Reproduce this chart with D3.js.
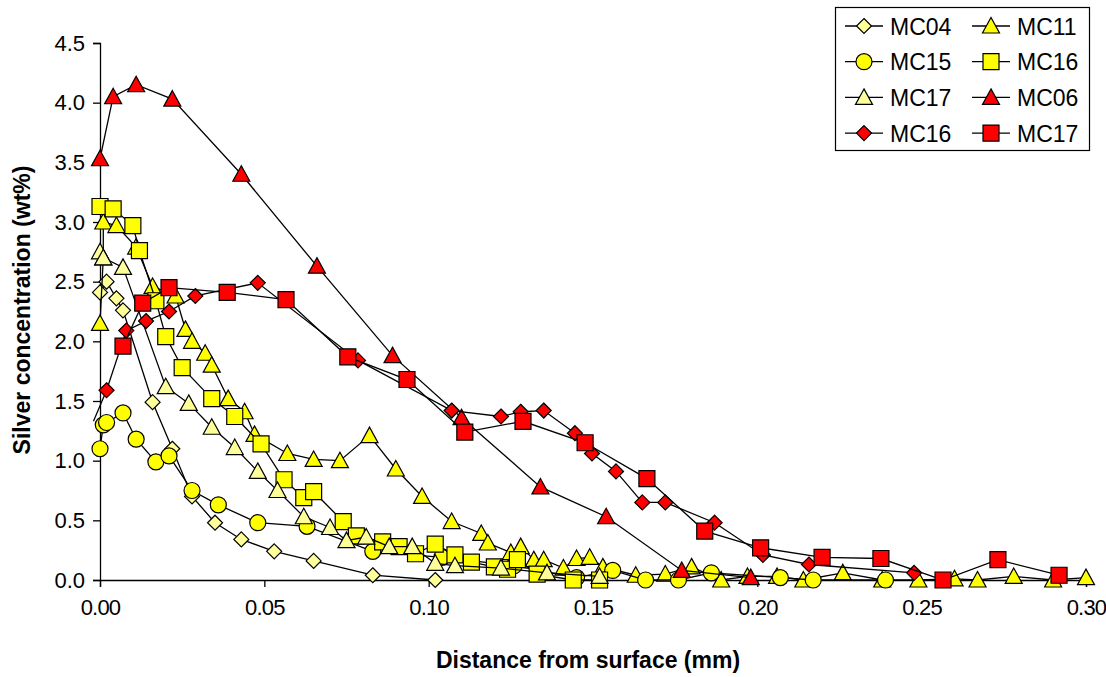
<!DOCTYPE html>
<html lang="en">
<head>
<meta charset="utf-8">
<title>Silver concentration profiles</title>
<script src="https://d3js.org/d3.v7.min.js"></script>
<style>
  body { margin: 0; background: #fff; }
  text { font-family: "Liberation Sans", Arial, sans-serif; fill: #000; }
</style>
</head>
<body>
<svg id="chart" width="1106" height="677"></svg>
<script>
// distance (mm), silver (wt%)
var mc04 = [[0,2.41],[0.002,2.50],[0.005,2.36],[0.007,2.26],[0.016,1.49],[0.022,1.10],[0.028,0.70],
  [0.035,0.48],[0.043,0.34],[0.053,0.24],[0.065,0.16],[0.083,0.04],[0.102,0.0]];
var mc11 = [[0,2.15],[0.001,2.70],[0.001,3.00],[0.005,2.97],[0.011,2.79],[0.016,2.46],[0.023,2.38],
  [0.026,2.10],[0.028,2.00],[0.032,1.90],[0.034,1.80],[0.039,1.52],[0.044,1.41],[0.047,1.22],
  [0.057,1.06],[0.065,1.01],[0.073,1.00],[0.082,1.21],[0.090,0.93],[0.098,0.70],[0.107,0.49],
  [0.116,0.39],[0.118,0.31],[0.125,0.23],[0.128,0.28],[0.132,0.17],[0.135,0.17],[0.141,0.10],
  [0.145,0.18],[0.149,0.19],[0.153,0.11],[0.163,0.04],[0.172,0.05],[0.180,0.11],[0.189,0.0],
  [0.197,0.03],[0.206,0.03],[0.214,0.0],[0.226,0.06],[0.238,0.0],[0.249,0.0],[0.260,0.01],
  [0.267,0.0],[0.278,0.03],[0.290,0.0],[0.300,0.02]];
var mc15 = [[0,1.10],[0.001,1.30],[0.002,1.32],[0.007,1.40],[0.011,1.18],[0.017,0.99],[0.021,1.04],
  [0.028,0.75],[0.036,0.63],[0.048,0.48],[0.063,0.45],[0.083,0.24],[0.104,0.19],[0.126,0.12],
  [0.145,0.02],[0.156,0.08],[0.166,0.0],[0.176,0.0],[0.186,0.06],[0.207,0.02],[0.217,0.0],[0.239,0.0]];
var mc16y = [[0,3.13],[0.004,3.11],[0.010,2.97],[0.012,2.76],[0.017,2.34],[0.020,2.04],[0.025,1.78],
  [0.034,1.52],[0.041,1.37],[0.049,1.14],[0.056,0.84],[0.062,0.69],[0.065,0.74],[0.074,0.49],
  [0.078,0.37],[0.086,0.32],[0.091,0.28],[0.096,0.22],[0.102,0.30],[0.108,0.21],[0.113,0.15],
  [0.120,0.11],[0.124,0.09],[0.127,0.17],[0.133,0.05],[0.144,0.0],[0.152,0.0]];
var mc17y = [[0,2.75],[0.001,2.70],[0.007,2.62],[0.020,1.62],[0.027,1.48],[0.034,1.28],[0.041,1.11],
  [0.048,0.91],[0.054,0.75],[0.062,0.53],[0.070,0.44],[0.075,0.33],[0.081,0.36],[0.088,0.28],
  [0.095,0.28],[0.102,0.14],[0.108,0.12],[0.122,0.10],[0.136,0.06],[0.152,0.03]];
var mc06 = [[0,3.53],[0.004,4.05],[0.011,4.15],[0.022,4.03],[0.043,3.40],[0.066,2.63],[0.089,1.88],
  [0.110,1.36],[0.134,0.78],[0.154,0.53],[0.177,0.08],[0.198,0.02]];
var mc16r = [[-0.002,1.33],[0.002,1.59],[0.008,2.09],[0.014,2.17],[0.021,2.25],[0.029,2.38],[0.048,2.49],
  [0.0785,1.84],[0.107,1.42],[0.122,1.37],[0.128,1.41],[0.135,1.42],[0.1445,1.23],[0.1497,1.06],
  [0.157,0.91],[0.165,0.65],[0.172,0.65],[0.187,0.48],[0.2017,0.21],[0.2157,0.13],[0.2477,0.06]];
var mc17r = [[0.007,1.96],[0.013,2.32],[0.021,2.45],[0.0387,2.41],[0.0566,2.35],[0.0754,1.87],
  [0.0934,1.68],[0.111,1.24],[0.1287,1.33],[0.1476,1.15],[0.1664,0.85],[0.184,0.41],[0.201,0.27],
  [0.2197,0.19],[0.2376,0.18],[0.2565,0.0],[0.2732,0.17],[0.2918,0.04]];

var seriesNames = ["MC04", "MC11", "MC15", "MC16", "MC17", "MC06", "MC16", "MC17"];
var seriesData = [mc04, mc11, mc15, mc16y, mc17y, mc06, mc16r, mc17r];
var seriesShapes = ["diamond", "triangle", "circle", "square", "triangle", "triangle", "diamond", "square"];
var seriesColors = ["#FFFF99", "#FFFF00", "#FFFF00", "#FFFF00", "#FFFF99", "#FF0000", "#FF0000", "#FF0000"];

var xTicks = [0, 0.05, 0.10, 0.15, 0.20, 0.25, 0.30];
var yTicks = [0, 0.5, 1.0, 1.5, 2.0, 2.5, 3.0, 3.5, 4.0, 4.5];

var svg = d3.select("#chart");
var x = d3.scaleLinear().domain([0, 0.30]).range([100, 1086]);
var y = d3.scaleLinear().domain([0, 4.5]).range([580, 43]);

function shapePath(shape) {
  if (shape === "diamond") return "M0,-7.5L7.5,0L0,7.5L-7.5,0Z";
  if (shape === "triangle") return "M0,-8.5L8.5,7L-8.5,7Z";
  if (shape === "square") return "M-8,-8H8V8H-8Z";
  return d3.symbol(d3.symbolCircle, 201)();
}

// axes
var xAxis = svg.append("g").attr("transform", "translate(0,580)")
  .call(d3.axisBottom(x).tickValues(xTicks).tickFormat(d3.format(".2f")).tickSizeOuter(0).tickSize(7).tickPadding(12));
var yAxis = svg.append("g").attr("transform", "translate(100,0)")
  .call(d3.axisLeft(y).tickValues(yTicks).tickFormat(d3.format(".1f")).tickSizeOuter(0).tickSize(7).tickPadding(8));
svg.selectAll(".tick text").style("font-size", "22px").style("font-family", "'Liberation Sans', Arial, sans-serif");
xAxis.selectAll(".tick text").style("letter-spacing", "-0.8px");
svg.selectAll(".domain, .tick line").attr("stroke", "#000").attr("stroke-width", 1.3);

svg.append("clipPath").attr("id", "plotclip")
  .append("rect").attr("x", 93).attr("y", 0).attr("width", 1010).attr("height", 600);

var line = d3.line().x(function (d) { return x(d[0]); }).y(function (d) { return y(d[1]); });

seriesData.forEach(function (data, i) {
  var g = svg.append("g");
  g.append("path").datum(data)
    .attr("d", line)
    .attr("clip-path", "url(#plotclip)")
    .attr("fill", "none").attr("stroke", "#000").attr("stroke-width", 1.3);
  g.selectAll("path.pt")
    .data(data.filter(function (d) { return d[0] >= 0; }))
    .enter().append("path")
    .attr("class", "pt")
    .attr("d", shapePath(seriesShapes[i]))
    .attr("transform", function (d) { return "translate(" + x(d[0]) + "," + y(d[1]) + ")"; })
    .attr("fill", seriesColors[i]).attr("stroke", "#000").attr("stroke-width", 1.2);
});

// axis titles
svg.append("text")
  .attr("x", 588).attr("y", 668)
  .attr("text-anchor", "middle")
  .style("font-size", "23px").style("font-weight", "bold")
  .text("Distance from surface (mm)");
svg.append("text")
  .attr("transform", "translate(30,310) rotate(-90)")
  .attr("text-anchor", "middle")
  .style("font-size", "23px").style("font-weight", "bold")
  .text("Silver concentration (wt%)");

// legend
var legend = svg.append("g");
legend.append("rect").attr("x", 835.5).attr("y", 7.5).attr("width", 254).attr("height", 143)
  .attr("fill", "#fff").attr("stroke", "#000").attr("stroke-width", 1.2);
seriesNames.forEach(function (name, i) {
  var col = i % 2, row = Math.floor(i / 2);
  var lx = 845 + col * 127, ly = 26 + row * 35.7;
  legend.append("line").attr("x1", lx).attr("x2", lx + 38).attr("y1", ly).attr("y2", ly)
    .attr("stroke", "#000").attr("stroke-width", 1.3);
  legend.append("path").attr("d", shapePath(seriesShapes[i]))
    .attr("transform", "translate(" + (lx + 19) + "," + ly + ")")
    .attr("fill", seriesColors[i]).attr("stroke", "#000").attr("stroke-width", 1.2);
  legend.append("text").attr("x", lx + 45).attr("y", ly + 8.5)
    .style("font-size", "23px").text(name);
});
</script>
</body>
</html>
